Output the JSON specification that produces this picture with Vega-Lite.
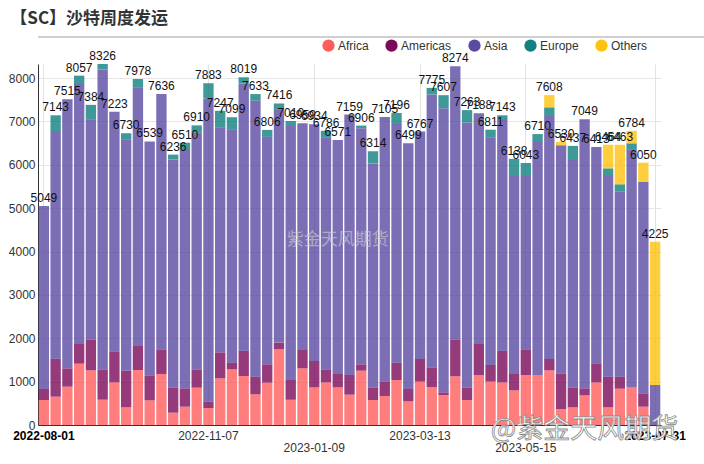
{
  "$schema": "https://vega.github.io/schema/vega-lite/v6.json",
  "padding": {"left": 8, "top": 10, "right": 0, "bottom": 0},
  "autosize": {"type": "pad"},
  "title": {"text": "【SC】沙特周度发运", "anchor": "start", "font": "Noto Sans CJK SC", "fontSize": 17, "fontWeight": "bold", "color": "#333333", "offset": 8, "dx": 2},
  "config": {"view": {"stroke": null}, "font": "Liberation Sans"},
  "columns": 1,
  "align": "none",
  "spacing": 12,
  "concat": [
    {
      "width": 696,
      "height": 1,
      "data": {"values": [{"v": 0}]},
      "mark": {"type": "rule", "color": "#a0a0a0", "strokeWidth": 1},
      "encoding": {"y": {"datum": 0, "type": "quantitative", "scale": {"domain": [0, 1]}, "axis": null}}
    },
    {
      "width": 623,
      "height": 361,
      "data": {"values": [
        {"date": "2022-08-01", "Africa": 577, "Americas": 253, "Asia": 4219, "Europe": 0, "Others": 0, "total": 5049},
        {"date": "2022-08-08", "Africa": 654, "Americas": 876, "Asia": 5250, "Europe": 363, "Others": 0, "total": 7143},
        {"date": "2022-08-15", "Africa": 884, "Americas": 423, "Asia": 6208, "Europe": 0, "Others": 0, "total": 7515},
        {"date": "2022-08-22", "Africa": 1415, "Americas": 454, "Asia": 5994, "Europe": 194, "Others": 0, "total": 8057},
        {"date": "2022-08-29", "Africa": 1261, "Americas": 715, "Asia": 5074, "Europe": 334, "Others": 0, "total": 7384},
        {"date": "2022-09-05", "Africa": 584, "Americas": 700, "Asia": 6918, "Europe": 124, "Others": 0, "total": 8326},
        {"date": "2022-09-12", "Africa": 984, "Americas": 708, "Asia": 5531, "Europe": 0, "Others": 0, "total": 7223},
        {"date": "2022-09-19", "Africa": 408, "Americas": 845, "Asia": 5335, "Europe": 142, "Others": 0, "total": 6730},
        {"date": "2022-09-26", "Africa": 1269, "Americas": 569, "Asia": 5950, "Europe": 190, "Others": 0, "total": 7978},
        {"date": "2022-10-03", "Africa": 569, "Americas": 569, "Asia": 5401, "Europe": 0, "Others": 0, "total": 6539},
        {"date": "2022-10-10", "Africa": 1177, "Americas": 569, "Asia": 5890, "Europe": 0, "Others": 0, "total": 7636},
        {"date": "2022-10-17", "Africa": 285, "Americas": 576, "Asia": 5265, "Europe": 110, "Others": 0, "total": 6236},
        {"date": "2022-10-24", "Africa": 423, "Americas": 423, "Asia": 5494, "Europe": 170, "Others": 0, "total": 6510},
        {"date": "2022-10-31", "Africa": 861, "Americas": 423, "Asia": 5456, "Europe": 170, "Others": 0, "total": 6910},
        {"date": "2022-11-07", "Africa": 392, "Americas": 154, "Asia": 6987, "Europe": 350, "Others": 0, "total": 7883},
        {"date": "2022-11-14", "Africa": 1077, "Americas": 599, "Asia": 5191, "Europe": 380, "Others": 0, "total": 7247},
        {"date": "2022-11-21", "Africa": 1284, "Americas": 154, "Asia": 5381, "Europe": 280, "Others": 0, "total": 7099},
        {"date": "2022-11-28", "Africa": 1130, "Americas": 585, "Asia": 6164, "Europe": 140, "Others": 0, "total": 8019},
        {"date": "2022-12-05", "Africa": 707, "Americas": 408, "Asia": 6368, "Europe": 150, "Others": 0, "total": 7633},
        {"date": "2022-12-12", "Africa": 977, "Americas": 423, "Asia": 5246, "Europe": 160, "Others": 0, "total": 6806},
        {"date": "2022-12-19", "Africa": 1746, "Americas": 154, "Asia": 5366, "Europe": 150, "Others": 0, "total": 7416},
        {"date": "2022-12-26", "Africa": 584, "Americas": 454, "Asia": 5857, "Europe": 115, "Others": 0, "total": 7010},
        {"date": "2023-01-02", "Africa": 1307, "Americas": 423, "Asia": 5229, "Europe": 0, "Others": 0, "total": 6959},
        {"date": "2023-01-09", "Africa": 869, "Americas": 607, "Asia": 5458, "Europe": 0, "Others": 0, "total": 6934},
        {"date": "2023-01-16", "Africa": 984, "Americas": 293, "Asia": 5359, "Europe": 150, "Others": 0, "total": 6786},
        {"date": "2023-01-23", "Africa": 869, "Americas": 308, "Asia": 5394, "Europe": 0, "Others": 0, "total": 6571},
        {"date": "2023-01-30", "Africa": 700, "Americas": 453, "Asia": 6006, "Europe": 0, "Others": 0, "total": 7159},
        {"date": "2023-02-06", "Africa": 1253, "Americas": 147, "Asia": 5446, "Europe": 60, "Others": 0, "total": 6906},
        {"date": "2023-02-13", "Africa": 577, "Americas": 284, "Asia": 5173, "Europe": 280, "Others": 0, "total": 6314},
        {"date": "2023-02-20", "Africa": 669, "Americas": 331, "Asia": 6105, "Europe": 0, "Others": 0, "total": 7105},
        {"date": "2023-02-27", "Africa": 1038, "Americas": 400, "Asia": 5503, "Europe": 255, "Others": 0, "total": 7196},
        {"date": "2023-03-06", "Africa": 546, "Americas": 284, "Asia": 5669, "Europe": 0, "Others": 0, "total": 6499},
        {"date": "2023-03-13", "Africa": 1000, "Americas": 523, "Asia": 5244, "Europe": 0, "Others": 0, "total": 6767},
        {"date": "2023-03-20", "Africa": 877, "Americas": 446, "Asia": 6302, "Europe": 150, "Others": 0, "total": 7775},
        {"date": "2023-03-27", "Africa": 692, "Americas": 62, "Asia": 6553, "Europe": 300, "Others": 0, "total": 7607},
        {"date": "2023-04-03", "Africa": 1123, "Americas": 853, "Asia": 6298, "Europe": 0, "Others": 0, "total": 8274},
        {"date": "2023-04-10", "Africa": 577, "Americas": 292, "Asia": 6104, "Europe": 290, "Others": 0, "total": 7263},
        {"date": "2023-04-17", "Africa": 1153, "Americas": 716, "Asia": 5319, "Europe": 0, "Others": 0, "total": 7188},
        {"date": "2023-04-24", "Africa": 1000, "Americas": 384, "Asia": 5252, "Europe": 175, "Others": 0, "total": 6811},
        {"date": "2023-05-01", "Africa": 984, "Americas": 731, "Asia": 5318, "Europe": 110, "Others": 0, "total": 7143},
        {"date": "2023-05-08", "Africa": 800, "Americas": 377, "Asia": 4565, "Europe": 396, "Others": 0, "total": 6138},
        {"date": "2023-05-15", "Africa": 1153, "Americas": 593, "Asia": 3997, "Europe": 300, "Others": 0, "total": 6043},
        {"date": "2023-05-22", "Africa": 1153, "Americas": 0, "Asia": 5397, "Europe": 160, "Others": 0, "total": 6710},
        {"date": "2023-05-29", "Africa": 1261, "Americas": 262, "Asia": 5603, "Europe": 200, "Others": 282, "total": 7608},
        {"date": "2023-06-05", "Africa": 369, "Americas": 823, "Asia": 5258, "Europe": 0, "Others": 80, "total": 6530},
        {"date": "2023-06-12", "Africa": 408, "Americas": 453, "Asia": 5250, "Europe": 326, "Others": 0, "total": 6437},
        {"date": "2023-06-19", "Africa": 684, "Americas": 162, "Asia": 6203, "Europe": 0, "Others": 0, "total": 7049},
        {"date": "2023-06-26", "Africa": 984, "Americas": 439, "Asia": 4990, "Europe": 0, "Others": 0, "total": 6413},
        {"date": "2023-07-03", "Africa": 408, "Americas": 707, "Asia": 4627, "Europe": 177, "Others": 545, "total": 6464},
        {"date": "2023-07-10", "Africa": 838, "Americas": 277, "Asia": 4265, "Europe": 171, "Others": 912, "total": 6463},
        {"date": "2023-07-17", "Africa": 877, "Americas": 0, "Asia": 5480, "Europe": 139, "Others": 288, "total": 6784},
        {"date": "2023-07-24", "Africa": 423, "Americas": 300, "Asia": 4888, "Europe": 0, "Others": 439, "total": 6050},
        {"date": "2023-07-31", "Africa": 0, "Americas": 0, "Asia": 923, "Europe": 0, "Others": 3302, "total": 4225}
      ]},
      "layer": [
        {
          "transform": [{"fold": ["Africa", "Americas", "Asia", "Europe", "Others"], "as": ["region", "ships"]}],
          "mark": {"type": "bar", "opacity": 0.8},
          "encoding": {
            "x": {
              "field": "date", "type": "ordinal", "title": null,
              "scale": {"paddingInner": 0.12, "paddingOuter": 0.06},
              "axis": {
                "values": ["2022-08-01", "2022-11-07", "2023-01-09", "2023-03-13", "2023-05-15", "2023-07-31"],
                "labelAngle": 0, "labelOverlap": false, "grid": true, "gridColor": "#e2e2e2",
                "ticks": false, "domainColor": "#333333", "labelFontSize": 12,
                "labelColor": {"condition": {"test": "datum.value == '2022-08-01' || datum.value == '2023-07-31'", "value": "#000000"}, "value": "#333333"},
                "labelFontWeight": {"condition": {"test": "datum.value == '2022-08-01' || datum.value == '2023-07-31'", "value": "bold"}, "value": "normal"},
                "labelPadding": {"condition": {"test": "datum.value == '2023-01-09' || datum.value == '2023-05-15'", "value": 17}, "value": 5}
              }
            },
            "y": {
              "field": "ships", "type": "quantitative", "stack": "zero", "title": null,
              "scale": {"domain": [0, 8326], "nice": false},
              "axis": {"values": [0, 1000, 2000, 3000, 4000, 5000, 6000, 7000, 8000], "format": "d", "grid": true, "gridColor": "#e6e6e6", "ticks": false, "domainColor": "#333333", "labelFontSize": 12, "labelColor": "#333333", "labelPadding": 3}
            },
            "order": {"field": "region", "type": "ordinal", "sort": "ascending"},
            "color": {
              "field": "region", "type": "nominal",
              "scale": {"domain": ["Africa", "Americas", "Asia", "Europe", "Others"], "range": ["#ff5c5c", "#7a0a5a", "#5a4aa2", "#108080", "#ffc20e"]},
              "legend": {"orient": "none", "legendX": 284, "legendY": 3, "direction": "horizontal", "title": null, "symbolType": "circle", "symbolSize": 150, "symbolOpacity": 1, "symbolStrokeWidth": 0, "labelFontSize": 12, "labelColor": "#333333", "columnPadding": 16, "labelOffset": 3}
            }
          }
        },
        {
          "mark": {"type": "text", "baseline": "bottom", "dy": -1, "fontSize": 12, "color": "#111111"},
          "encoding": {
            "x": {"field": "date", "type": "ordinal"},
            "y": {"field": "total", "type": "quantitative"},
            "text": {"field": "total", "type": "quantitative", "format": "d"}
          }
        },
        {
          "data": {"values": [{"t": "紫金天风期货"}]},
          "mark": {"type": "text", "font": "Noto Sans CJK SC", "fontSize": 17, "color": "#d0d0d0", "opacity": 0.6, "baseline": "middle"},
          "encoding": {
            "x": {"datum": "2023-01-23", "type": "ordinal"},
            "y": {"datum": 4266, "type": "quantitative"},
            "text": {"field": "t"}
          }
        },
        {
          "data": {"values": [{"t": "@紫金天风期货"}]},
          "mark": {"type": "text", "font": "Noto Sans CJK SC", "fontSize": 27, "fill": "#ffffff", "stroke": "#8a8a8a", "strokeWidth": 0.8, "baseline": "middle", "clip": false},
          "encoding": {
            "x": {"datum": "2023-06-19", "type": "ordinal"},
            "y": {"datum": -115, "type": "quantitative"},
            "text": {"field": "t"}
          }
        }
      ]
    }
  ]
}
